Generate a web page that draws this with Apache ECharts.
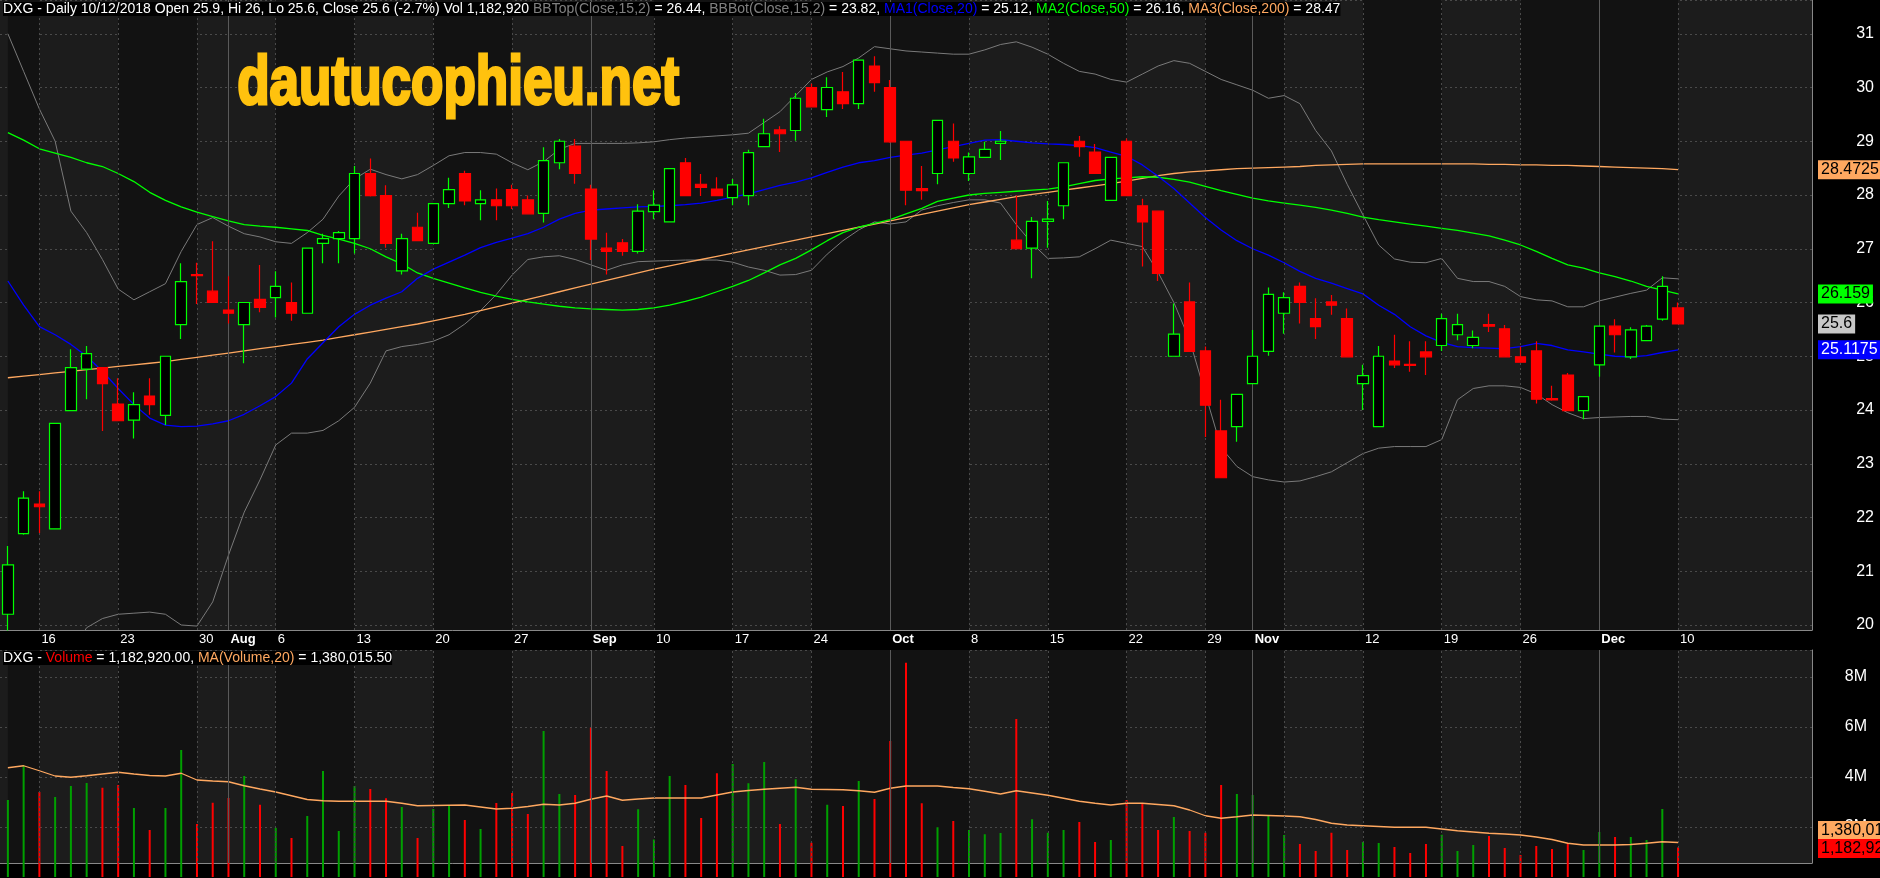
<!DOCTYPE html>
<html>
<head>
<meta charset="utf-8">
<script src="https://cdn.jsdelivr.net/npm/echarts@6/dist/echarts.min.js"></script>
<style>
html,body{margin:0;padding:0;background:#000;}
#chart{width:1880px;height:878px;}
</style>
</head>
<body>
<div id="chart"></div>
<script>
// DXG daily, 12/07/2018 - 10/12/2018
var dates = [
'2018-07-12','2018-07-13','2018-07-16','2018-07-17','2018-07-18','2018-07-19','2018-07-20','2018-07-23','2018-07-24','2018-07-25',
'2018-07-26','2018-07-27','2018-07-30','2018-07-31','2018-08-01','2018-08-02','2018-08-03','2018-08-06','2018-08-07','2018-08-08',
'2018-08-09','2018-08-10','2018-08-13','2018-08-14','2018-08-15','2018-08-16','2018-08-17','2018-08-20','2018-08-21','2018-08-22',
'2018-08-23','2018-08-24','2018-08-27','2018-08-28','2018-08-29','2018-08-30','2018-08-31','2018-09-04','2018-09-05','2018-09-06',
'2018-09-07','2018-09-10','2018-09-11','2018-09-12','2018-09-13','2018-09-14','2018-09-17','2018-09-18','2018-09-19','2018-09-20',
'2018-09-21','2018-09-24','2018-09-25','2018-09-26','2018-09-27','2018-09-28','2018-10-01','2018-10-02','2018-10-03','2018-10-04',
'2018-10-05','2018-10-08','2018-10-09','2018-10-10','2018-10-11','2018-10-12','2018-10-15','2018-10-16','2018-10-17','2018-10-18',
'2018-10-19','2018-10-22','2018-10-23','2018-10-24','2018-10-25','2018-10-26','2018-10-29','2018-10-30','2018-10-31','2018-11-01',
'2018-11-02','2018-11-05','2018-11-06','2018-11-07','2018-11-08','2018-11-09','2018-11-12','2018-11-13','2018-11-14','2018-11-15',
'2018-11-16','2018-11-19','2018-11-20','2018-11-21','2018-11-22','2018-11-23','2018-11-26','2018-11-27','2018-11-28','2018-11-29',
'2018-11-30','2018-12-03','2018-12-04','2018-12-05','2018-12-06','2018-12-07','2018-12-10'
];
var open = [
20.20,21.70,22.25,21.79,23.99,24.76,24.79,24.11,23.81,24.26,
23.90,25.59,26.52,26.21,25.86,25.59,26.06,26.09,26.00,25.80,
27.10,27.19,27.19,28.40,27.99,26.59,27.40,27.10,27.84,28.40,
27.84,27.91,28.10,27.91,27.66,28.60,28.91,28.11,27.01,27.11,
26.95,27.69,27.50,28.60,28.20,28.11,27.95,27.99,28.90,29.21,
29.20,30.00,29.59,29.92,29.70,30.40,30.00,29.00,28.12,28.40,
29.00,28.40,28.70,28.96,27.16,27.01,27.51,27.80,29.00,28.80,
27.90,29.00,27.80,27.70,25.00,26.01,25.10,23.61,23.69,24.49,
25.09,25.80,26.30,25.70,26.01,25.70,24.49,23.69,24.91,24.85,
25.08,25.20,25.40,25.20,25.59,25.51,24.99,25.10,24.21,24.65,
23.99,24.84,25.56,24.99,25.29,25.69,25.90
];
var high = [
21.47,22.49,22.49,23.75,25.13,25.19,24.80,24.59,24.33,24.59,
25.00,26.73,26.74,27.14,26.49,26.00,26.70,26.58,26.37,27.01,
27.28,27.33,28.54,28.68,28.18,27.28,27.67,27.84,28.32,28.45,
28.09,28.12,28.19,27.99,28.89,29.04,29.04,28.19,27.30,27.18,
27.83,28.09,28.49,28.69,28.39,28.33,28.30,28.84,29.42,29.28,
29.90,30.07,30.19,30.29,30.51,30.58,30.14,29.00,28.54,29.39,
29.33,28.79,28.99,29.19,27.99,27.59,27.89,28.60,29.10,28.95,
28.70,29.05,27.93,27.70,25.98,26.37,25.18,24.19,24.29,25.49,
26.28,26.19,26.37,26.08,26.14,25.89,24.84,25.19,25.40,25.28,
25.28,25.79,25.79,25.48,25.79,25.58,25.18,25.28,24.45,24.69,
24.25,25.56,25.69,25.54,25.58,26.49,26.00
];
var low = [
19.90,21.68,21.71,21.78,23.98,24.20,23.61,23.79,23.47,23.91,
23.72,25.32,25.97,26.00,25.61,24.87,25.82,25.72,25.66,25.80,
26.73,26.73,26.91,27.97,27.02,26.52,27.15,27.10,27.76,27.81,
27.53,27.53,27.74,27.65,27.49,28.48,28.21,26.79,26.52,26.87,
26.91,27.55,27.50,27.99,27.98,27.98,27.81,27.81,28.90,28.80,
29.01,29.63,29.45,29.60,29.60,29.92,28.97,27.81,27.91,28.20,
28.62,28.26,28.70,28.65,27.00,26.45,27.02,27.55,28.71,28.40,
27.90,27.99,26.67,26.40,25.00,25.09,23.50,22.74,23.41,24.48,
25.01,25.42,25.61,25.32,25.77,24.99,24.00,23.69,24.78,24.71,
24.65,25.10,25.30,25.15,25.45,24.99,24.89,24.12,24.17,23.99,
23.83,24.62,25.07,24.95,25.29,25.66,25.60
];
var close = [
21.12,22.36,22.20,23.75,24.79,25.05,24.49,23.80,24.10,24.10,
25.00,26.39,26.50,26.00,25.80,26.00,25.91,26.30,25.80,27.01,
27.19,27.30,28.40,27.99,27.10,27.19,27.15,27.84,28.10,27.89,
27.91,27.80,27.80,27.65,28.64,29.00,28.40,27.18,26.95,26.95,
27.70,27.81,28.49,27.99,28.14,27.99,28.19,28.79,29.14,29.14,
29.80,29.64,30.00,29.70,30.51,30.09,28.99,28.09,28.08,29.39,
28.69,28.71,28.85,29.00,27.00,27.51,27.55,28.60,28.90,28.40,
28.70,27.99,27.50,26.54,25.41,25.09,24.09,22.74,24.29,25.00,
26.15,26.09,26.00,25.55,25.95,24.99,24.64,25.00,24.84,24.83,
24.99,25.70,25.59,25.35,25.56,24.99,24.89,24.20,24.19,23.99,
24.25,25.56,25.40,25.49,25.56,26.30,25.60
];
var volume = [
3.08,4.45,3.40,3.20,3.64,3.76,3.57,3.68,2.76,1.88,
2.76,5.08,2.12,2.97,3.16,4.04,2.89,1.97,1.56,2.44,
4.24,1.84,3.64,3.52,3.15,2.80,1.56,2.72,2.88,2.28,
1.92,2.96,3.36,2.52,5.84,3.32,3.28,5.97,4.24,1.24,
2.71,1.50,4.04,3.68,2.36,4.15,4.52,3.75,4.60,2.12,
3.91,1.37,2.89,2.84,3.84,3.12,5.44,8.57,2.95,1.99,
2.24,1.88,1.71,1.76,6.32,2.31,1.77,1.88,2.20,1.40,
1.48,3.08,2.95,1.88,2.40,1.84,1.77,3.68,3.32,3.28,
2.48,1.68,1.32,1.04,1.77,1.08,1.40,1.36,1.20,0.96,
1.32,1.69,1.04,1.28,1.64,1.16,0.88,1.24,1.12,1.35,
1.08,1.80,1.60,1.60,1.48,2.72,1.18292
];
var volMa = [
4.37,4.45,4.25,4.04,3.99,4.05,4.12,4.19,4.12,4.06,
4.04,4.15,3.88,3.84,3.81,3.65,3.52,3.40,3.25,3.10,
3.05,3.03,3.03,3.03,3.03,2.95,2.85,2.86,2.87,2.88,
2.80,2.72,2.75,2.82,2.91,2.88,2.95,3.11,3.24,3.07,
3.12,3.16,3.16,3.16,3.16,3.28,3.40,3.46,3.51,3.55,
3.59,3.51,3.50,3.49,3.45,3.39,3.55,3.64,3.64,3.64,
3.58,3.53,3.43,3.32,3.45,3.36,3.27,3.15,3.03,2.95,
2.88,2.95,2.95,2.90,2.85,2.68,2.45,2.35,2.41,2.48,
2.46,2.44,2.41,2.30,2.15,2.08,2.05,2.02,1.99,1.99,
1.99,1.92,1.85,1.80,1.75,1.72,1.68,1.60,1.50,1.35,
1.28,1.28,1.28,1.30,1.35,1.41,1.38
];
var ma20 = [
26.40,25.95,25.55,25.40,25.22,25.00,24.72,24.40,24.10,23.85,
23.72,23.69,23.70,23.74,23.80,23.92,24.08,24.25,24.50,24.95,
25.25,25.55,25.78,25.95,26.08,26.20,26.45,26.62,26.75,26.88,
27.02,27.12,27.20,27.28,27.40,27.55,27.66,27.72,27.74,27.76,
27.78,27.79,27.80,27.82,27.85,27.90,27.96,28.02,28.10,28.18,
28.24,28.32,28.42,28.52,28.60,28.64,28.70,28.74,28.78,28.84,
28.90,28.96,29.02,29.03,29.00,28.97,28.95,28.94,28.92,28.88,
28.80,28.72,28.56,28.35,28.12,27.85,27.58,27.35,27.15,27.00,
26.88,26.74,26.58,26.45,26.36,26.26,26.16,25.95,25.78,25.55,
25.38,25.26,25.18,25.16,25.15,25.14,25.18,25.24,25.20,25.12,
25.08,25.04,25.00,24.99,25.01,25.07,25.12
];
var ma50 = [
29.16,29.02,28.86,28.78,28.70,28.60,28.53,28.40,28.25,28.05,
27.90,27.78,27.68,27.60,27.52,27.45,27.42,27.40,27.37,27.34,
27.25,27.18,27.10,27.00,26.85,26.72,26.55,26.45,26.36,26.27,
26.19,26.12,26.06,26.01,25.97,25.93,25.90,25.88,25.87,25.86,
25.87,25.90,25.95,26.02,26.10,26.20,26.30,26.41,26.55,26.70,
26.82,26.98,27.15,27.30,27.40,27.47,27.54,27.65,27.75,27.88,
27.94,28.00,28.03,28.05,28.07,28.09,28.11,28.15,28.21,28.27,
28.30,28.32,28.34,28.33,28.29,28.24,28.16,28.08,28.01,27.94,
27.89,27.85,27.81,27.77,27.72,27.66,27.59,27.54,27.50,27.46,
27.42,27.38,27.34,27.29,27.24,27.16,27.07,26.95,26.82,26.70,
26.64,26.55,26.48,26.40,26.30,26.23,26.159
];
var ma200 = [
24.60,24.63,24.66,24.69,24.72,24.75,24.78,24.81,24.84,24.87,
24.90,24.94,24.98,25.02,25.06,25.10,25.14,25.18,25.22,25.26,
25.30,25.35,25.40,25.45,25.50,25.55,25.60,25.66,25.72,25.78,
25.85,25.92,25.99,26.06,26.13,26.20,26.27,26.34,26.41,26.48,
26.55,26.62,26.68,26.74,26.80,26.86,26.92,26.98,27.04,27.10,
27.16,27.22,27.28,27.34,27.40,27.46,27.52,27.58,27.64,27.70,
27.76,27.82,27.87,27.92,27.97,28.01,28.05,28.09,28.13,28.17,
28.21,28.26,28.31,28.36,28.40,28.43,28.45,28.47,28.49,28.50,
28.51,28.52,28.53,28.55,28.56,28.57,28.58,28.58,28.58,28.58,
28.58,28.58,28.58,28.58,28.57,28.57,28.56,28.56,28.55,28.55,
28.54,28.53,28.52,28.51,28.50,28.49,28.4725
];
var bbTop = [
31.00,30.30,29.60,29.00,27.70,27.30,26.80,26.25,26.05,26.20,
26.35,26.95,27.45,27.58,27.42,27.28,27.22,27.13,27.10,27.30,
27.55,27.98,28.30,28.48,28.38,28.30,28.38,28.55,28.73,28.79,
28.79,28.76,28.60,28.47,28.62,28.85,28.96,28.96,28.96,28.96,
28.97,28.99,29.03,29.06,29.08,29.10,29.12,29.15,29.35,29.55,
29.85,30.15,30.29,30.39,30.55,30.76,30.72,30.68,30.66,30.64,
30.62,30.62,30.70,30.80,30.85,30.75,30.62,30.45,30.30,30.25,
30.15,30.10,30.25,30.40,30.50,30.45,30.30,30.15,30.05,29.95,
29.80,29.85,29.70,29.20,28.82,28.20,27.63,27.07,26.81,26.75,
26.74,26.82,26.45,26.39,26.39,26.30,26.11,26.05,26.03,25.92,
25.92,26.03,26.10,26.17,26.23,26.46,26.44
];
var bbBot = [
17.00,17.50,18.00,18.80,19.50,19.95,20.12,20.20,20.22,20.24,
20.20,20.00,19.98,20.43,21.30,22.10,22.70,23.35,23.57,23.57,
23.62,23.80,24.05,24.50,25.10,25.18,25.22,25.28,25.40,25.60,
25.85,26.15,26.51,26.80,26.85,26.87,26.80,26.70,26.60,26.70,
26.76,26.77,26.78,26.79,26.79,26.79,26.75,26.66,26.60,26.51,
26.52,26.60,26.90,27.15,27.35,27.50,27.46,27.50,27.72,27.80,
27.86,27.91,27.91,27.85,27.45,27.10,26.82,26.83,26.85,27.00,
27.16,27.10,27.04,26.56,26.00,25.30,24.30,23.30,22.95,22.76,
22.70,22.66,22.68,22.76,22.85,23.02,23.19,23.29,23.32,23.32,
23.32,23.45,24.19,24.40,24.45,24.45,24.42,24.30,24.10,23.95,
23.84,23.86,23.87,23.88,23.88,23.83,23.82
];
// x-axis labels: bar index -> text
var tickIndex = [2,7,12,14,17,22,27,32,37,41,46,51,56,61,66,71,76,79,86,91,96,101,106];
var tickText = ['16','23','30','Aug','6','13','20','27','Sep','10','17','24','Oct','8','15','22','29','Nov','12','19','26','Dec','10'];
var monthIndex = [14,37,56,79,101];
var weekIndex = [2,7,12,17,22,27,32,41,46,51,61,66,71,76,81,86,91,96,106];

var PAD = 8;   // empty slots right of last bar
var cats = dates.slice();
for (var k = 0; k < PAD; k++) cats.push('pad' + k);

var tickMap = {};
tickIndex.forEach(function (ix, n) { tickMap[dates[ix]] = tickText[n]; });

var candles = dates.map(function (d, i) { return [open[i], close[i], low[i], high[i]]; });
var volData = dates.map(function (d, i) {
    return { value: volume[i] * 1e6, itemStyle: { color: close[i] >= open[i] ? '#00a000' : '#ff0000' } };
});
var toM = function (a) { return a.map(function (v) { return v * 1e6; }); };

// alternating weekly shading
var weekStarts = [0].concat(weekIndex);
var shade = [];
for (var w = 0; w < weekStarts.length; w += 2) {
    var a = cats[weekStarts[w]];
    var b = w + 1 < weekStarts.length ? cats[weekStarts[w + 1]] : cats[cats.length - 1];
    shade.push([{ xAxis: a }, { xAxis: b }]);
}
var vlines = weekIndex.map(function (ix) {
    return { xAxis: dates[ix], lineStyle: { type: [2, 3], color: '#4a4a4a', width: 1 } };
}).concat(monthIndex.map(function (ix) {
    return { xAxis: dates[ix], lineStyle: { type: 'solid', color: '#5a5a5a', width: 1 } };
}));

// value tag at the right edge of a panel
function endLabel(val, text, bg, fg, dy) {
    return {
        yAxis: val,
        lineStyle: { color: 'rgba(0,0,0,0)', width: 0 },
        label: {
            show: true, position: 'end', distance: 6, formatter: text,
            backgroundColor: bg, color: fg, padding: [2, 3, 1, 3],
            offset: [0, dy || 0],
            fontFamily: 'Liberation Sans', fontSize: 16
        }
    };
}
var font = 'Liberation Sans Narrow, Liberation Sans';

var chart = echarts.init(document.getElementById('chart'));
chart.setOption({
    backgroundColor: '#000',
    animation: false,
    grid: [
        { left: 0, width: 1812, top: 0, height: 630, show: true, backgroundColor: '#1c1c1c', borderWidth: 0 },
        { left: 0, width: 1812, top: 650, height: 213, show: true, backgroundColor: '#1c1c1c', borderWidth: 0 }
    ],
    xAxis: [
        {
            type: 'category', data: cats, gridIndex: 0, boundaryGap: true,
            axisLine: { lineStyle: { color: '#888' } }, axisTick: { show: false },
            splitLine: { show: false },
            axisLabel: {
                interval: 0, align: 'left', margin: 3, padding: [0, 0, 0, 2],
                color: '#fff', fontFamily: 'Liberation Sans', fontSize: 13,
                formatter: function (v) {
                    var t = tickMap[v];
                    if (!t) return '';
                    return /[A-Za-z]/.test(t) ? '{b|' + t + '}' : t;
                },
                rich: { b: { fontWeight: 'bold', color: '#fff', fontFamily: 'Liberation Sans', fontSize: 13 } }
            }
        },
        {
            type: 'category', data: cats, gridIndex: 1, boundaryGap: true,
            axisLine: { show: true, lineStyle: { color: '#888' } }, axisTick: { show: false },
            axisLabel: { show: false }, splitLine: { show: false }
        }
    ],
    yAxis: [
        {
            type: 'value', gridIndex: 0, position: 'right', min: 19.907, max: 31.628, splitNumber: 12,
            axisLine: { show: true, lineStyle: { color: '#888' } }, axisTick: { show: false },
            splitLine: { lineStyle: { color: '#4a4a4a', type: [2, 3] } },
            axisLabel: {
                color: '#fff', fontFamily: 'Liberation Sans', fontSize: 16, align: 'right', margin: 62,
                formatter: function (v) { return Math.abs(v - Math.round(v)) < 1e-6 ? String(Math.round(v)) : ''; }
            }
        },
        {
            type: 'value', gridIndex: 1, position: 'right', min: 0.56e6, max: 9.08e6, splitNumber: 4,
            axisLine: { show: true, lineStyle: { color: '#888' } }, axisTick: { show: false },
            splitLine: { lineStyle: { color: '#4a4a4a', type: [2, 3] } },
            axisLabel: {
                color: '#fff', fontFamily: 'Liberation Sans', fontSize: 16, align: 'right', margin: 55,
                formatter: function (v) { return Math.abs(v / 2e6 - Math.round(v / 2e6)) < 1e-6 ? (v / 1e6) + 'M' : ''; }
            }
        }
    ],
    series: [
        {
            name: 'shadeP', type: 'line', xAxisIndex: 0, yAxisIndex: 0, data: [], z: 0, silent: true,
            markArea: { silent: true, itemStyle: { color: '#121212' }, data: shade },
            markLine: { silent: true, symbol: ['none', 'none'], label: { show: false }, data: vlines }
        },
        {
            name: 'shadeV', type: 'line', xAxisIndex: 1, yAxisIndex: 1, data: [], z: 0, silent: true,
            markArea: { silent: true, itemStyle: { color: '#121212' }, data: shade },
            markLine: { silent: true, symbol: ['none', 'none'], label: { show: false }, data: vlines }
        },
        {
            name: 'BBTop', type: 'line', data: bbTop, symbol: 'none', z: 3,
            lineStyle: { color: '#7a7a7a', width: 1 }
        },
        {
            name: 'BBBot', type: 'line', data: bbBot, symbol: 'none', z: 3,
            lineStyle: { color: '#7a7a7a', width: 1 }
        },
        {
            name: 'MA3', type: 'line', data: ma200, symbol: 'none', z: 4, clip: false,
            lineStyle: { color: '#ffa860', width: 1.3 },
            markLine: { silent: true, symbol: ['none', 'none'], data: [endLabel(28.4725, '28.4725', '#ffa860', '#000')] }
        },
        {
            name: 'MA2', type: 'line', data: ma50, symbol: 'none', z: 4, clip: false,
            lineStyle: { color: '#00ff00', width: 1.3 },
            markLine: { silent: true, symbol: ['none', 'none'], data: [endLabel(26.159, '26.159', '#00ff00', '#000')] }
        },
        {
            name: 'MA1', type: 'line', data: ma20, symbol: 'none', z: 4, clip: false,
            lineStyle: { color: '#0000ff', width: 1.3 },
            markLine: { silent: true, symbol: ['none', 'none'], data: [endLabel(25.1175, '25.1175', '#0000ff', '#fff')] }
        },
        {
            name: 'DXG', type: 'candlestick', data: candles, barWidth: 11, z: 5, clip: false,
            itemStyle: { color: '#000', color0: '#ff0000', borderColor: '#00ff00', borderColor0: '#ff0000', borderWidth: 1.2 },
            markLine: { silent: true, symbol: ['none', 'none'], data: [endLabel(25.6, '25.6', '#c8c8c8', '#000')] }
        },
        {
            name: 'Volume', type: 'bar', xAxisIndex: 1, yAxisIndex: 1, data: volData, barWidth: 2, z: 3, clip: false
        },
        {
            name: 'MAVol', type: 'line', xAxisIndex: 1, yAxisIndex: 1, data: toM(volMa), symbol: 'none', z: 4, clip: false,
            lineStyle: { color: '#ffa860', width: 1.3 },
            markLine: {
                silent: true, symbol: ['none', 'none'],
                data: [
                    endLabel(1.380016e6, '1,380,016', '#ffa860', '#000', -12),
                    endLabel(1.182920e6, '1,182,920', '#ff0000', '#000', 1)
                ]
            }
        }
    ],
    graphic: [
        {
            type: 'text', left: 236, top: 50, z: 10, scaleX: 0.78,
            style: {
                text: 'dautucophieu.net', fill: '#ffc20e', stroke: '#ffc20e', lineWidth: 3,
                font: '900 68px "Liberation Sans"',
                shadowColor: '#6b3a00', shadowOffsetX: 1, shadowOffsetY: 1, shadowBlur: 0
            }
        },
        {
            type: 'text', left: 3, top: 2, z: 10,
            style: {
                text: '{w|DXG - Daily 10/12/2018 Open 25.9, Hi 26, Lo 25.6, Close 25.6 (-2.7%) Vol 1,182,920 }{g|BBTop(Close,15,2)}{w| = 26.44, }{g|BBBot(Close,15,2)}{w| = 23.82, }{b|MA1(Close,20)}{w| = 25.12, }{gr|MA2(Close,50)}{w| = 26.16, }{o|MA3(Close,200)}{w| = 28.47}',
                backgroundColor: '#000',
                rich: {
                    w: { fill: '#fff', fontSize: 14, fontFamily: font },
                    g: { fill: '#808080', fontSize: 14, fontFamily: font },
                    b: { fill: '#0000ff', fontSize: 14, fontFamily: font },
                    gr: { fill: '#00ff00', fontSize: 14, fontFamily: font },
                    o: { fill: '#ffa860', fontSize: 14, fontFamily: font }
                }
            }
        },
        {
            type: 'text', left: 3, top: 651, z: 10,
            style: {
                text: '{w|DXG - }{r|Volume}{w| = 1,182,920.00, }{o|MA(Volume,20)}{w| = 1,380,015.50}',
                backgroundColor: '#000',
                rich: {
                    w: { fill: '#fff', fontSize: 14, fontFamily: font },
                    r: { fill: '#ff0000', fontSize: 14, fontFamily: font },
                    o: { fill: '#ffa860', fontSize: 14, fontFamily: font }
                }
            }
        }
    ]
});
</script>
</body>
</html>
